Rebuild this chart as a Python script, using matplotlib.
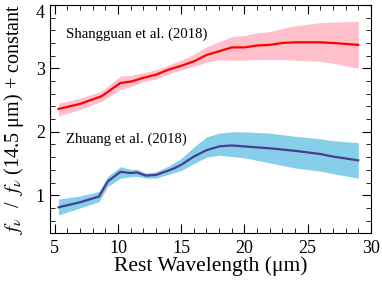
import matplotlib
matplotlib.use("Agg")
import matplotlib.pyplot as plt
from matplotlib.ticker import MultipleLocator

plt.rcParams['font.family'] = ['Liberation Serif', 'DejaVu Serif']
plt.rcParams['mathtext.fontset'] = 'stix'

# Shangguan et al. (2018)
wave_s = [5.3, 7.0, 8.7, 10.2, 11.0, 12.0, 13.0, 14.0, 15.0, 16.0, 17.0, 18.0,
          19.0, 20.0, 21.0, 22.0, 23.0, 24.0, 26.0, 27.0, 29.0]
flux_s = [2.36, 2.44, 2.56, 2.77, 2.79, 2.85, 2.90, 2.98, 3.04, 3.11, 3.21, 3.27,
          3.33, 3.33, 3.36, 3.37, 3.40, 3.41, 3.41, 3.40, 3.37]
upper_s = [2.45, 2.53, 2.64, 2.88, 2.89, 2.93, 2.98, 3.05, 3.13, 3.22, 3.34, 3.42,
           3.50, 3.52, 3.56, 3.58, 3.63, 3.67, 3.72, 3.73, 3.74]
lower_s = [2.25, 2.35, 2.48, 2.67, 2.71, 2.79, 2.83, 2.91, 2.98, 3.03, 3.10, 3.13,
           3.13, 3.13, 3.14, 3.14, 3.14, 3.13, 3.11, 3.08, 3.00]

# Zhuang et al. (2018)
wave_z = [5.3, 7.0, 8.5, 9.2, 10.2, 11.0, 11.5, 12.2, 13.0, 14.0, 14.5, 15.0,
          16.0, 17.0, 18.0, 19.0, 20.0, 22.0, 24.0, 26.0, 27.0, 29.0]
flux_z = [0.81, 0.89, 0.98, 1.22, 1.37, 1.35, 1.36, 1.31, 1.32, 1.39, 1.43, 1.48,
          1.61, 1.71, 1.77, 1.785, 1.77, 1.74, 1.70, 1.65, 1.61, 1.55]
upper_z = [0.94, 0.99, 1.06, 1.30, 1.45, 1.41, 1.41, 1.35, 1.37, 1.46, 1.52, 1.58,
           1.76, 1.92, 1.98, 2.00, 2.00, 1.98, 1.93, 1.89, 1.86, 1.83]
lower_z = [0.69, 0.80, 0.90, 1.14, 1.27, 1.29, 1.30, 1.27, 1.27, 1.33, 1.36, 1.39,
           1.50, 1.60, 1.63, 1.61, 1.59, 1.51, 1.43, 1.38, 1.34, 1.27]

fig = plt.figure(figsize=(3.82, 2.88), dpi=100)
ax = fig.add_axes([0.13, 0.192, 0.841, 0.791])

ax.fill_between(wave_s, lower_s, upper_s, color='pink', lw=0)
ax.plot(wave_s, flux_s, color='red', lw=1.6)
ax.fill_between(wave_z, lower_z, upper_z, color='skyblue', lw=0)
ax.plot(wave_z, flux_z, color='darkslateblue', lw=1.6)

ax.text(5.9, 3.53, 'Shangguan et al. (2018)', fontsize=10.6, va='center')
ax.text(5.9, 1.89, 'Zhuang et al. (2018)', fontsize=10.6, va='center')

ax.set_xlim(4.6, 30)
ax.set_ylim(0.41, 4)
ax.xaxis.set_major_locator(MultipleLocator(5))
ax.xaxis.set_minor_locator(MultipleLocator(1))
ax.yaxis.set_major_locator(MultipleLocator(1))
ax.yaxis.set_minor_locator(MultipleLocator(0.2))
ax.tick_params(which='both', direction='in', top=True, right=True, labelsize=13)
ax.tick_params(which='major', length=6.5)
ax.tick_params(which='minor', length=3.5)
ax.tick_params(axis='x', pad=5)

ax.set_xlabel('Rest Wavelength (μm)', fontsize=15.5, labelpad=0)
ax.set_ylabel(r'$f_\nu$  /  $f_\nu$ (14.5 μm) + constant', fontsize=14.5, labelpad=7)

# keep the top "4" label inside the figure, as in the original
fig.canvas.draw()
for lab in ax.get_yticklabels():
    if lab.get_text() == '4':
        lab.set_va('top')

fig.savefig('out.png', dpi=100)
